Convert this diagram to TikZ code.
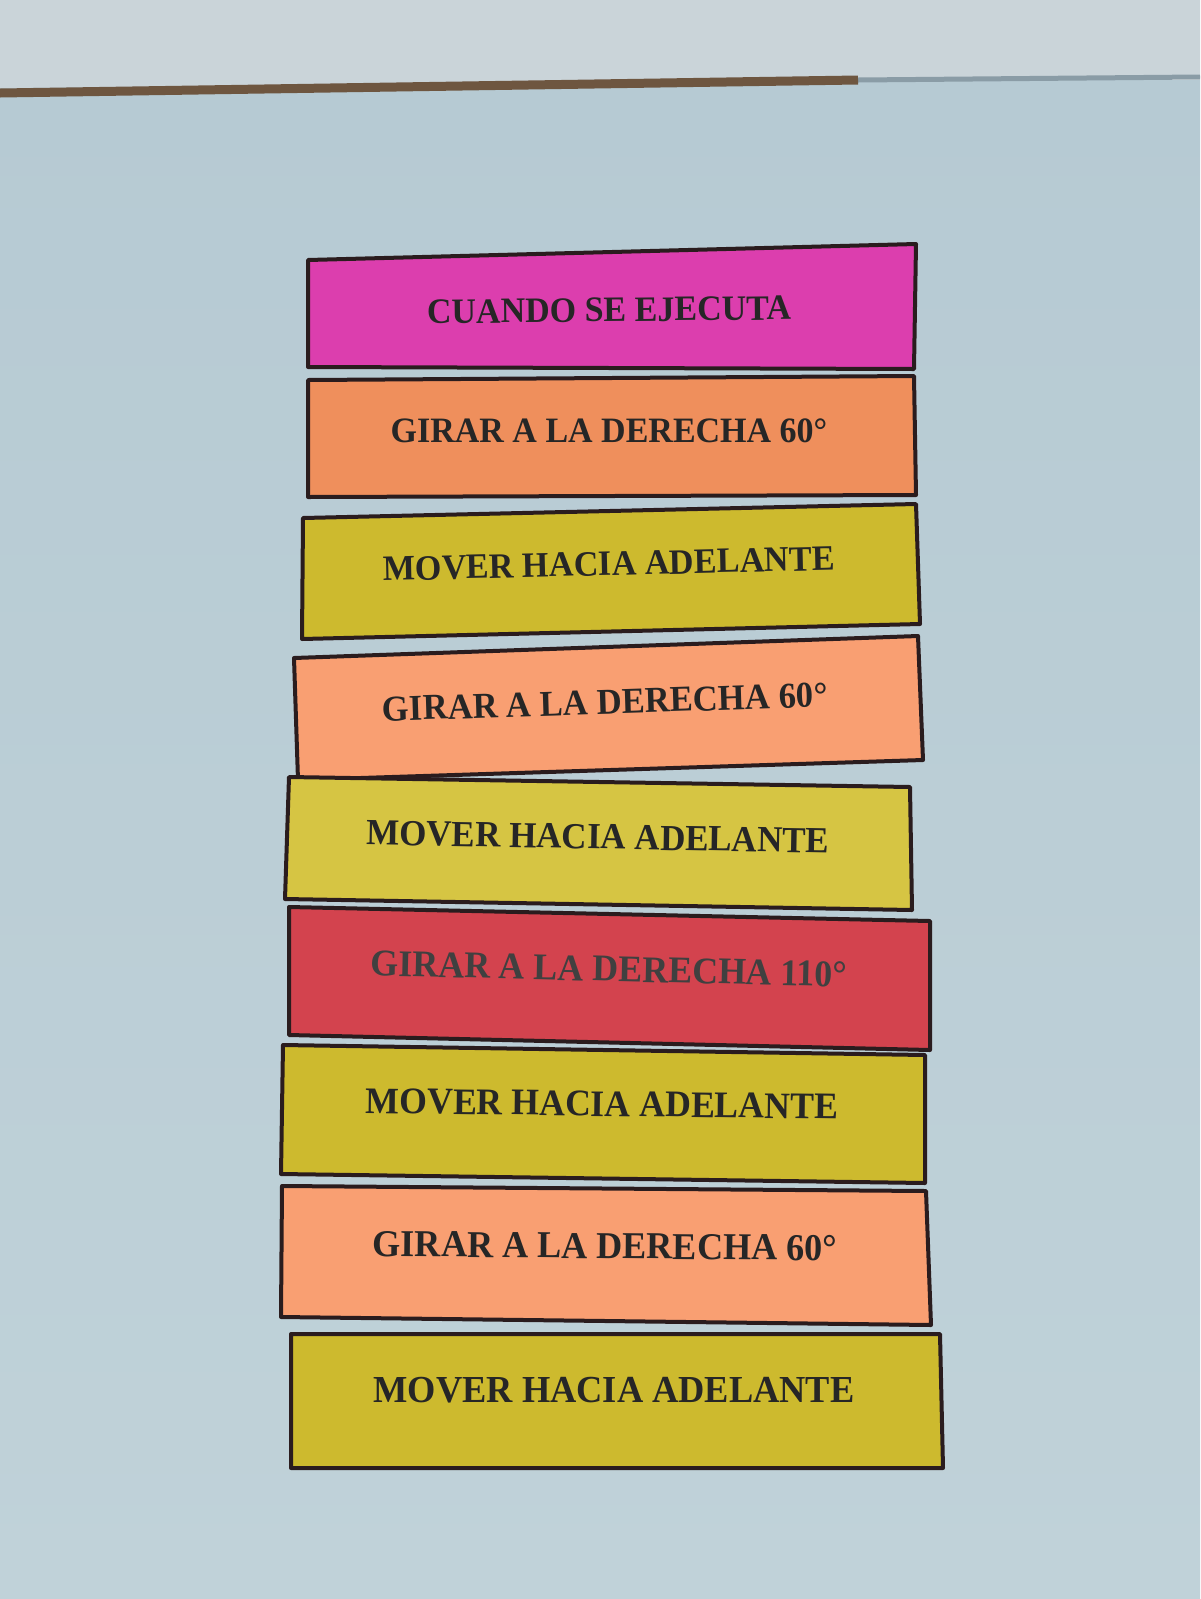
\documentclass[tikz,border=0pt]{standalone}
\usepackage{fontspec}
\setmainfont{Liberation Serif}
\definecolor{bgtop}{HTML}{CAD4D9}
\definecolor{bgmid}{HTML}{B6CAD3}
\definecolor{bgbot}{HTML}{C0D2D9}
\definecolor{brownline}{HTML}{6E5640}
\definecolor{grayline}{HTML}{8A9CA6}
\definecolor{pinkc}{HTML}{DC3EAE}
\definecolor{orangec}{HTML}{EF8F5C}
\definecolor{orangel}{HTML}{F99F72}
\definecolor{yellowc}{HTML}{CDBA2E}
\definecolor{yellowl}{HTML}{D6C543}
\definecolor{redc}{HTML}{D3434E}
\definecolor{edgec}{HTML}{2A1C1E}
\tikzset{
  strip/.style={draw=edgec, line width=4pt, line join=round},
  label/.style={font=\fontsize{34}{40}\selectfont\bfseries, text=black!85, inner sep=0pt, yscale=1.05}
}
\begin{document}
\begin{tikzpicture}[x=1pt,y=-1pt]
\useasboundingbox (0,0) rectangle (1200,1599);
% background
\shade[top color=bgmid, bottom color=bgbot] (0,80) rectangle (1200,1599);
\fill[bgtop] (0,0) -- (1200,0) -- (1200,78) -- (0,88) -- cycle;
% top lines
\draw[grayline, line width=5pt] (858,80) -- (1200,77);
\draw[brownline, line width=9pt] (0,93) -- (858,80);
% strip 1
\path[strip, fill=pinkc] (308,260) -- (916,244) -- (914,369) -- (308,367) -- cycle;
\node[label, rotate=0.6] (t1) at (609,310) {CUANDO SE EJECUTA};
% strip 2
\path[strip, fill=orangec] (308,380) -- (914,376) -- (916,495) -- (308,497) -- cycle;
\node[label] (t2) at (609,431) {GIRAR A LA DERECHA 60°};
% strip 3
\path[strip, fill=yellowc] (303,518) -- (916,504) -- (920,624) -- (302,639) -- cycle;
\node[label, rotate=1.3, xscale=1.005] (t3) at (609,564) {MOVER HACIA ADELANTE};
% strip 4
\path[strip, fill=orangel] (294,658) -- (918,636) -- (923,760) -- (298,780) -- cycle;
\node[label, rotate=1.8, scale=1.02] (t4) at (605,702) {GIRAR A LA DERECHA 60°};
% strip 5
\path[strip, fill=yellowl] (289,777) -- (910,787) -- (912,910) -- (285,899) -- cycle;
\node[label, rotate=-1, scale=1.03] (t5) at (598,837) {MOVER HACIA ADELANTE};
% strip 6
\path[strip, fill=redc] (289,907) -- (930,921) -- (930,1050) -- (289,1035) -- cycle;
\node[label, rotate=-1.3, scale=1.055, text=black!75] (t6) at (609,969) {GIRAR A LA DERECHA 110°};
% strip 7
\path[strip, fill=yellowc] (283,1045) -- (925,1055) -- (925,1183) -- (281,1174) -- cycle;
\node[label, rotate=-0.7, scale=1.05] (t7) at (602,1104) {MOVER HACIA ADELANTE};
% strip 8
\path[strip, fill=orangel] (282,1186) -- (926,1191) -- (931,1325) -- (281,1317) -- cycle;
\node[label, rotate=-0.5, scale=1.063] (t8) at (605,1246) {GIRAR A LA DERECHA 60°};
% strip 9
\path[strip, fill=yellowc] (291,1334) -- (940,1334) -- (943,1468) -- (291,1468) -- cycle;
\node[label, scale=1.07] (t9) at (614,1390) {MOVER HACIA ADELANTE};
\end{tikzpicture}
\end{document}
